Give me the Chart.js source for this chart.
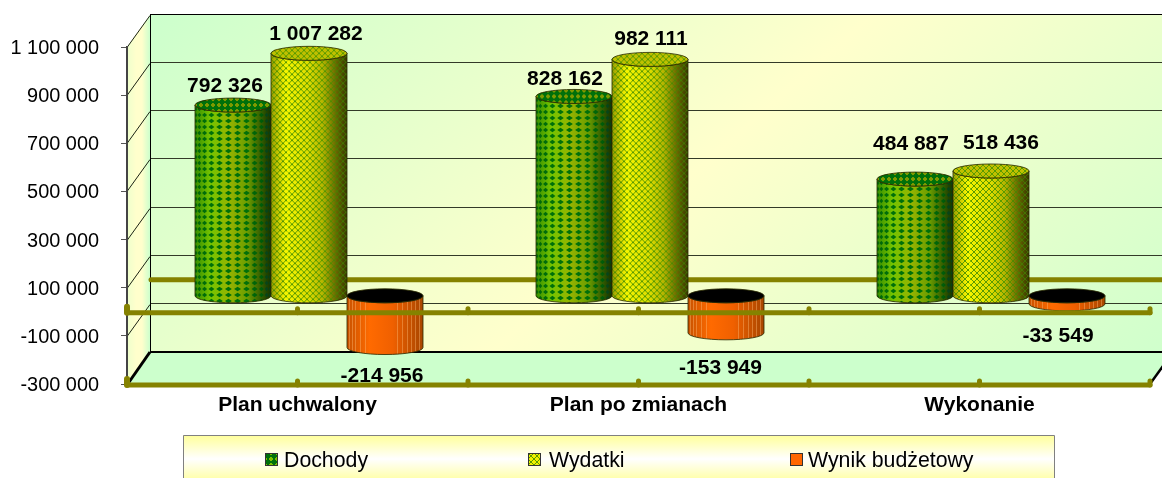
<!DOCTYPE html>
<html><head><meta charset="utf-8">
<style>html,body{margin:0;padding:0;background:#fff;overflow:hidden}#w{width:1162px;height:478px;position:relative}</style>
<script src="https://cdn.jsdelivr.net/npm/chart.js@4"></script>
</head><body><div id="w"><canvas id="c" width="1162" height="478"></canvas></div>
<script>
const categories = ['Plan uchwalony', 'Plan po zmianach', 'Wykonanie'];
const dochody = [792326, 828162, 484887];
const wydatki = [1007282, 982111, 518436];
const wynik = [-214956, -153949, -33549];
const seriesNames = ['Dochody', 'Wydatki', 'Wynik budżetowy'];
const yMin = -300000, yMax = 1100000, yStep = 200000;
// label nudges relative to the top of each cylinder [dx, dy]
const labelOff = [
  [[-8, -13], [-9, -11.6], [-4, -29.5]],
  [[7, -13.5], [1, -14.5], [10, -21.5]],
  [[-3, 34], [-5.5, 41], [-9, 38]]
];

const DX = 23, DY = -32;       // full depth of the box
const fmt = v => String(Math.abs(v)).replace(/\B(?=(\d{3})+$)/g, ' ');
const fmtS = v => (v < 0 ? '-' : '') + fmt(v);
const OLIVE = '#858200';

function tile(size, paint) {
  const t = document.createElement('canvas'); t.width = t.height = size;
  paint(t.getContext('2d'));
  return t;
}
function px(g, c, list) { g.fillStyle = c; list.forEach(p => g.fillRect(p[0], p[1], p[2] || 1, p[3] || 1)); }
const greenTile = tile(6, g => px(g, '#00700a', [[2,0,2,1],[1,1,4,1],[0,2,6,2],[1,4,4,1],[2,5,2,1]]));
const yellowTile = tile(6, g => px(g, '#5a9a00', [[0,0],[1,1],[2,2],[3,3],[4,4],[5,5],[5,0],[4,1],[3,2],[2,3],[1,4],[0,5]]));

function shade(ctx, x0, x1, stops) {
  const g = ctx.createLinearGradient(x0, 0, x1, 0);
  stops.forEach(s => g.addColorStop(s[0], s[1]));
  return g;
}
const looks = [
  { stops: [[0,'#3c9a00'],[0.2,'#74c400'],[0.45,'#96b400'],[0.7,'#6a9c00'],[0.88,'#3c7000'],[1,'#1e4a00']], tile: greenTile, top: '#7f9a00', kind: 'dots', swatch: '#7ec000' },
  { stops: [[0,'#a8a800'],[0.18,'#f6f600'],[0.5,'#dcdc00'],[0.7,'#b0b000'],[1,'#505000']], tile: yellowTile, top: '#c0c000', kind: 'trellis', swatch: '#f0f000' },
  { stops: [[0,'#c85200'],[0.3,'#ff6a00'],[0.6,'#f06000'],[1,'#a84600']], top: '#000000', swatch: '#ff6600' }
];

function cylinder(ctx, bar, look) {
  const cx = bar.x + DX / 2, rx = bar.width / 2, ry = 7;
  const yVal = bar.y + DY / 2, yBase = bar.base + DY / 2;
  const up = Math.min(yVal, yBase), low = Math.max(yVal, yBase);
  const L = cx - rx, R = cx + rx;
  const body = () => {
    ctx.beginPath();
    ctx.moveTo(L, up);
    ctx.lineTo(L, low);
    ctx.ellipse(cx, low, rx, ry, 0, Math.PI, 0, true);
    ctx.lineTo(R, up);
    ctx.ellipse(cx, up, rx, ry, 0, 0, Math.PI, false);
    ctx.closePath();
  };
  ctx.save();
  body();
  ctx.fillStyle = shade(ctx, L, R, look.stops); ctx.fill();
  ctx.save(); body(); ctx.clip();
  if (look.kind === 'dots') {
    const N = 13;
    for (let k = 0; k <= N; k++) {
      const th = k * Math.PI / N, xx = cx - rx * Math.cos(th), hw = Math.max(1, 3 * Math.sin(th) + 0.5);
      ctx.fillStyle = k > N * 0.8 ? '#0a5a20' : '#00700a';
      for (let yy = Math.floor(up - 8); yy <= low + ry + 6; yy += 6) {
        ctx.beginPath();
        ctx.moveTo(xx - hw, yy); ctx.lineTo(xx, yy - 2.3); ctx.lineTo(xx + hw, yy); ctx.lineTo(xx, yy + 2.3);
        ctx.closePath(); ctx.fill();
      }
    }
  } else if (look.kind === 'trellis') {
    ctx.save(); ctx.translate(L, up);
    ctx.fillStyle = ctx.createPattern(look.tile, 'repeat');
    ctx.fillRect(0, -10, 2 * rx, low - up + ry + 12);
    ctx.restore();
    ctx.fillStyle = 'rgba(255,255,0,.5)';
    ctx.fillRect(L + 16, up, 1.5, low - up + ry);
  } else {
    ctx.strokeStyle = 'rgba(255,190,120,.4)'; ctx.lineWidth = 1;
    [0.03, 0.07, 0.11, 0.17, 0.24, 0.66, 0.72, 0.79, 0.84, 0.9, 0.95].forEach(f => {
      const xx = Math.round(L + f * 2 * rx) + 0.5;
      ctx.beginPath(); ctx.moveTo(xx, up); ctx.lineTo(xx, low + ry); ctx.stroke();
    });
  }
  if (look.tile) {
    ctx.fillStyle = shade(ctx, L, R, [[0,'rgba(0,0,0,.08)'],[0.2,'rgba(0,0,0,0)'],[0.68,'rgba(0,0,0,0)'],[1,'rgba(0,0,0,.3)']]);
    ctx.fillRect(L, up - 8, 2 * rx, low - up + ry + 16);
  }
  ctx.restore();
  ctx.strokeStyle = 'rgba(40,40,0,.8)'; ctx.lineWidth = 1;
  body(); ctx.stroke();
  ctx.beginPath(); ctx.ellipse(cx, up, rx, ry, 0, 0, Math.PI * 2);
  ctx.fillStyle = look.top; ctx.fill();
  if (look.tile) {
    ctx.save(); ctx.translate(L, up);
    ctx.fillStyle = ctx.createPattern(look.tile, 'repeat');
    ctx.beginPath(); ctx.ellipse(rx, 0, rx, ry, 0, 0, Math.PI * 2); ctx.fill();
    ctx.restore();
  }
  ctx.beginPath(); ctx.ellipse(cx, up, rx, ry, 0, 0, Math.PI * 2);
  ctx.strokeStyle = 'rgba(40,40,0,.8)'; ctx.stroke();
  ctx.restore();
}

const box3d = {
  id: 'box3d',
  beforeDraw(chart) {
    const { ctx, chartArea: a, scales: { y } } = chart;
    const W = chart.width;
    ctx.save();
    const top = y.getPixelForValue(yMax), bot = y.getPixelForValue(yMin);
    const bx = a.left + DX, bt = top + DY, bb = bot + DY;
    let g = ctx.createLinearGradient(bx, bt, bx + 634, bb + 380);
    g.addColorStop(0, '#ccffcc'); g.addColorStop(0.5, '#ffffcc'); g.addColorStop(1, '#ccffcc');
    ctx.fillStyle = g; ctx.fillRect(bx, bt, W - bx, bb - bt);
    g = ctx.createLinearGradient(a.left, 0, bx, 0);
    g.addColorStop(0, '#eeffcc'); g.addColorStop(0.4, '#ffffcc'); g.addColorStop(0.65, '#ffffcc'); g.addColorStop(1, '#ccffcc');
    ctx.fillStyle = g;
    ctx.beginPath(); ctx.moveTo(a.left, top); ctx.lineTo(bx, bt); ctx.lineTo(bx, bb); ctx.lineTo(a.left, bot); ctx.closePath(); ctx.fill();
    ctx.fillStyle = '#ccffcc';
    ctx.beginPath(); ctx.moveTo(a.left, bot); ctx.lineTo(bx, bb); ctx.lineTo(a.right + DX, bb); ctx.lineTo(a.right, bot); ctx.closePath(); ctx.fill();
    ctx.lineWidth = 1;
    for (let v = yMin; v <= yMax; v += yStep) {
      const p = Math.round(y.getPixelForValue(v));
      ctx.strokeStyle = '#1c2414';
      if (v !== yMin) { ctx.beginPath(); ctx.moveTo(a.left, p + .5); ctx.lineTo(bx, p + DY + .5); ctx.stroke(); }
      if (v === yMin) continue;
      ctx.strokeStyle = '#333a28';
      ctx.beginPath(); ctx.moveTo(bx, p + DY - .5); ctx.lineTo(W, p + DY - .5); ctx.stroke();
    }
    ctx.strokeStyle = '#000';
    ctx.lineWidth = 1;
    ctx.beginPath(); ctx.moveTo(bx + .5, bt); ctx.lineTo(bx + .5, bb); ctx.stroke();
    ctx.beginPath(); ctx.moveTo(bx, Math.round(bt) - .5); ctx.lineTo(W, Math.round(bt) - .5); ctx.stroke();
    ctx.lineWidth = 2;
    ctx.beginPath(); ctx.moveTo(bx, Math.round(bb)); ctx.lineTo(W, Math.round(bb)); ctx.stroke();
    ctx.lineWidth = 3;
    ctx.beginPath(); ctx.moveTo(a.left, bot + 1); ctx.lineTo(bx, bb); ctx.stroke();
    ctx.lineWidth = 2.5;
    ctx.beginPath(); ctx.moveTo(a.right, bot); ctx.lineTo(a.right + DX, bb); ctx.stroke();
    const z = y.getPixelForValue(0);
    ctx.strokeStyle = OLIVE; ctx.lineWidth = 5; ctx.lineCap = 'round';
    ctx.beginPath(); ctx.moveTo(a.left + 24, z + DY); ctx.lineTo(W + 5, z + DY); ctx.stroke();
    ctx.restore();
  },
  afterDatasetsDraw(chart) {
    const { ctx, chartArea: a, scales: { y } } = chart;
    [0, 1, 2].forEach(d => chart.getDatasetMeta(d).data.forEach(el => {
      cylinder(ctx, el.getProps(['x', 'y', 'base', 'width'], true), looks[d]);
    }));
    ctx.save();
    ctx.fillStyle = '#000'; ctx.font = 'bold 21px "Liberation Sans"'; ctx.textAlign = 'center'; ctx.textBaseline = 'alphabetic';
    [0, 1, 2].forEach(d => chart.getDatasetMeta(d).data.forEach((el, i) => {
      const p = el.getProps(['x', 'y'], true);
      const v = chart.data.datasets[d].data[i];
      ctx.fillText(fmtS(v), p.x + DX / 2 + labelOff[d][i][0], p.y + DY / 2 + labelOff[d][i][1]);
    }));
    ctx.restore();
    ctx.save();
    ctx.strokeStyle = OLIVE;
    [y.getPixelForValue(0), y.getPixelForValue(yMin)].forEach(r => {
      ctx.lineWidth = 5; ctx.lineCap = 'round';
      ctx.beginPath(); ctx.moveTo(a.left, r + 1); ctx.lineTo(a.right, r + 1); ctx.stroke();
      for (let k = 0; k <= 6; k++) {
        const tx = a.left + (a.right - a.left) * k / 6;
        const ext = k === 0 ? 5 : 3;
        ctx.lineWidth = k === 0 ? 6 : 5;
        ctx.beginPath(); ctx.moveTo(tx, r - ext); ctx.lineTo(tx, r + 1); ctx.stroke();
      }
    });
    ctx.restore();
    ctx.save();
    const lx0 = 183, lx1 = 1054, ly0 = 435;
    const g = ctx.createLinearGradient(0, ly0, 0, ly0 + 48);
    g.addColorStop(0, '#ffff99'); g.addColorStop(0.5, '#ffffff'); g.addColorStop(1, '#ffff99');
    ctx.fillStyle = g; ctx.fillRect(lx0, ly0, lx1 - lx0, 50);
    ctx.strokeStyle = '#808080'; ctx.lineWidth = 1; ctx.beginPath();
    ctx.moveTo(lx0 + .5, 478); ctx.lineTo(lx0 + .5, ly0 + .5); ctx.lineTo(lx1 + .5, ly0 + .5); ctx.lineTo(lx1 + .5, 478); ctx.stroke();
    ctx.font = '21.3px "Liberation Sans"'; ctx.textBaseline = 'alphabetic'; ctx.textAlign = 'left';
    const sw = [265, 528, 790], tx = [284, 549, 808];
    seriesNames.forEach((n, i) => {
      ctx.fillStyle = looks[i].swatch; ctx.fillRect(sw[i], 453, 13, 13);
      if (looks[i].tile) { ctx.save(); ctx.translate(sw[i], 453); ctx.fillStyle = ctx.createPattern(looks[i].tile, 'repeat'); ctx.fillRect(0, 0, 13, 13); ctx.restore(); }
      ctx.strokeStyle = '#333'; ctx.strokeRect(sw[i] + .5, 453.5, 12, 12);
      ctx.fillStyle = '#000'; ctx.fillText(n, tx[i], 467);
    });
    ctx.restore();
  }
};

new Chart(document.getElementById('c'), {
  type: 'bar',
  data: {
    labels: categories,
    datasets: [
      { label: seriesNames[0], data: dochody, backgroundColor: 'rgba(0,0,0,0)' },
      { label: seriesNames[1], data: wydatki, backgroundColor: 'rgba(0,0,0,0)' },
      { label: seriesNames[2], data: wynik, backgroundColor: 'rgba(0,0,0,0)' }
    ]
  },
  options: {
    responsive: false, animation: false,
    layout: { padding: { top: 47, right: 12, bottom: 0, left: 0 } },
    categoryPercentage: 228 / 341, barPercentage: 1,
    plugins: { legend: { display: false }, tooltip: { enabled: false } },
    scales: {
      x: {
        grid: { display: false }, border: { display: false },
        afterFit(s) { s.height = 94; },
        ticks: { color: '#000', font: { family: '"Liberation Sans"', size: 21, weight: 'bold' }, padding: 1, maxRotation: 0 }
      },
      y: {
        min: yMin, max: yMax,
        afterFit(s) { s.width = 127; },
        afterBuildTicks(s) { s.ticks = []; for (let v = yMin; v <= yMax; v += yStep) s.ticks.push({ value: v }); },
        grid: { drawOnChartArea: false, color: '#555', tickLength: 6 },
        border: { color: '#444', width: 2 },
        ticks: { color: '#000', font: { family: '"Liberation Sans"', size: 19.9 }, padding: 22, labelOffset: 1.5,
          callback: v => fmtS(v) }
      }
    }
  },
  plugins: [box3d]
});
</script></body></html>
